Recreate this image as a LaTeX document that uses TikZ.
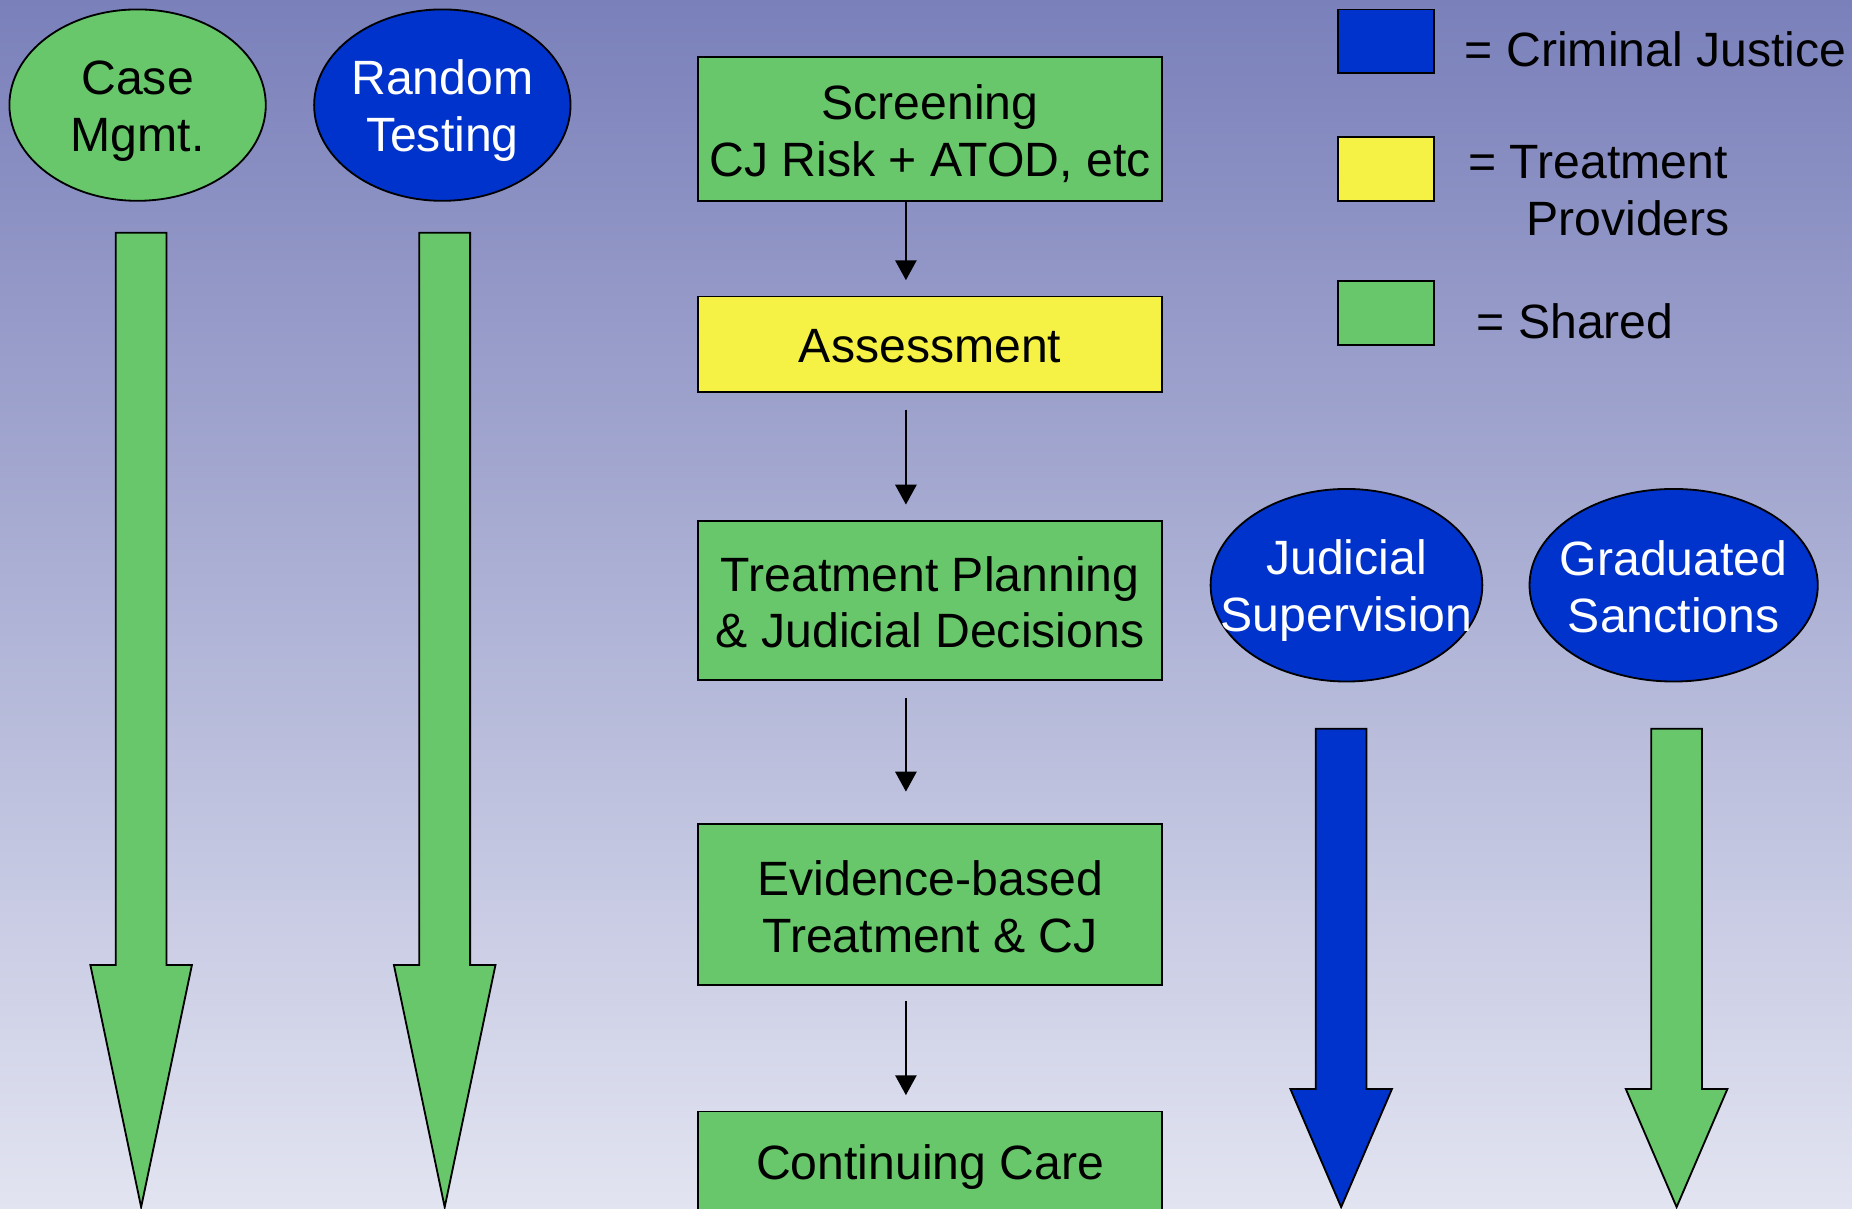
\documentclass[tikz,border=0pt]{standalone}
\usepackage{fontspec}
\setmainfont{Liberation Sans}
\usetikzlibrary{shapes.geometric,arrows.meta,calc}
\definecolor{bgtop}{RGB}{122,128,186}
\definecolor{bgbot}{RGB}{226,228,241}
\definecolor{sgreen}{RGB}{104,199,106}
\definecolor{cjblue}{RGB}{0,51,204}
\definecolor{tyellow}{RGB}{245,242,69}
\newcommand\myblockarrow[4]{%
  \draw[blk, fill=#4] (#1-21.5,#2) -- (#1+21.5,#2) -- (#1+21.5,#3) -- (#1+43,#3)
    -- (#1,1022) -- (#1-43,#3) -- (#1-21.5,#3) -- cycle;}
\begin{document}
\begin{tikzpicture}[x=0.025cm,y=-0.025cm,
  txt/.style={font=\fontsize{29}{34}\selectfont, align=center, inner sep=0pt},
  stepbox/.style={draw=black, line width=1.1pt, minimum width=9.825cm, inner sep=0pt, fill=sgreen},
  oval/.style={ellipse, draw=black, line width=1.1pt, inner sep=0pt},
  conn/.style={line width=1.1pt, -{Triangle[width=0.45cm,length=0.42cm]}},
  blk/.style={draw=black, line width=1.1pt, line join=miter},
  legbox/.style={draw=black, line width=1.1pt, minimum width=2.025cm, minimum height=1.35cm, inner sep=0pt},
  legtxt/.style={font=\fontsize{29}{34}\selectfont, inner sep=0pt, anchor=base west}
]
\useasboundingbox (0,0) rectangle (1568,1023);
\clip (0,0) rectangle (1568,1023);
\shade[top color=bgtop, bottom color=bgbot] (0,0) rectangle (1568,1023);

% left ovals
\node[oval, fill=sgreen, minimum width=5.425cm, minimum height=4.05cm] (cm) at (116.5,89) {};
\node[txt] (cmt) at ([yshift=-0.125cm]cm.center) {Case\\Mgmt.};
\node[oval, fill=cjblue, minimum width=5.425cm, minimum height=4.05cm] (rt) at (374.5,89) {};
\node[txt, text=white] (rtt) at ([yshift=-0.11cm]rt.center) {Random\\Testing};

% left block arrows
\myblockarrow{119.5}{197}{817}{sgreen}
\myblockarrow{376.5}{197}{817}{sgreen}

% central flow
\node[stepbox, minimum height=3.05cm] (scr) at (787.5,109) {};
\node[txt] (scrt) at ([yshift=-0.1cm]scr.center) {Screening\\CJ Risk + ATOD, etc};
\node[stepbox, fill=tyellow, minimum height=2.025cm] (ass) at (787.5,291.5) {};
\node[txt] (asst) at ([yshift=-0.05cm]ass.center) {Assessment};
\node[stepbox, minimum height=3.375cm] (tp) at (787.5,508.5) {};
\node[txt] (tpt) at ([yshift=-0.04cm]tp.center) {Treatment Planning\\\& Judicial Decisions};
\node[stepbox, minimum height=3.4cm] (eb) at (787.5,766) {};
\node[txt] (ebt) at ([yshift=-0.04cm]eb.center) {Evidence-based\\Treatment \& CJ};
\node[stepbox, minimum height=2.2cm] (cc) at (787.5,985) {};
\node[txt] (cct) at ([yshift=-0.075cm]cc.center) {Continuing Care};

\draw[conn] ([xshift=-0.5125cm]scr.south) -- ([xshift=-0.5125cm,yshift=0.325cm]ass.north);
\draw[conn] ([xshift=-0.5125cm,yshift=-0.35cm]ass.south) -- ([xshift=-0.5125cm,yshift=0.325cm]tp.north);
\draw[conn] ([xshift=-0.5125cm,yshift=-0.35cm]tp.south) -- ([xshift=-0.5125cm,yshift=0.675cm]eb.north);
\draw[conn] ([xshift=-0.5125cm,yshift=-0.325cm]eb.south) -- ([xshift=-0.5125cm,yshift=0.325cm]cc.north);

% right ovals
\node[oval, fill=cjblue, minimum width=5.75cm, minimum height=4.075cm] (js) at (1140,495.5) {};
\node[txt, text=white] (jst) at ([yshift=-0.11cm]js.center) {Judicial\\Supervision};
\node[oval, fill=cjblue, minimum width=6.1cm, minimum height=4.075cm] (gs) at (1417,495.5) {};
\node[txt, text=white] (gst) at ([yshift=-0.03cm]gs.center) {Graduated\\Sanctions};

\myblockarrow{1135.5}{617}{922}{cjblue}
\myblockarrow{1419.5}{617}{922}{sgreen}

% legend
\node[legbox, fill=cjblue] (lb) at (1173.5,35) {};
\node[legbox, fill=tyellow] (ly) at (1173.5,143) {};
\node[legbox, fill=sgreen] (lg) at (1173.5,265) {};
\node[legtxt] (lbt) at (1240,56) {= Criminal Justice};
\node[legtxt] (lyt) at (1243,151) {= Treatment};
\node[legtxt] (lyt2) at (1292,199.5) {Providers};
\node[legtxt] (lgt) at (1250,286.5) {= Shared};
\end{tikzpicture}
\end{document}
